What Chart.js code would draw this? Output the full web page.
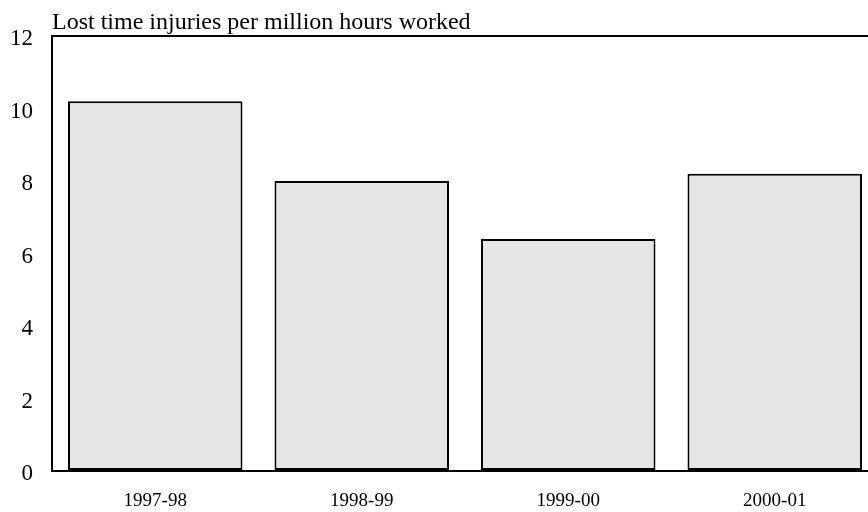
<!DOCTYPE html>
<html lang="en">
<head>
    <meta charset="UTF-8">
    <title>Lost time injuries per million hours worked</title>
    <script src="https://cdn.jsdelivr.net/npm/chart.js"></script>
    <style>
        html, body {
            margin: 0;
            padding: 0;
            background: #fff;
            overflow: hidden;
        }
        .chart-box {
            width: 880px;
            height: 512px;
        }
    </style>
</head>
<body>
    <div class="chart-box">
        <canvas id="injuryChart" width="880" height="512"></canvas>
    </div>

    <script>
        const categories = ['1997-98', '1998-99', '1999-00', '2000-01'];
        const injuryRates = [10.2, 8.0, 6.4, 8.2];
        const yMin = 0;
        const yMax = 12;
        const yStep = 2;
        const chartTitle = 'Lost time injuries per million hours worked';

        const serif = "'Liberation Serif', 'Times New Roman', serif";

        // title sits above the plot, flush with its left edge
        const topTitle = {
            id: 'topTitle',
            afterDraw(chart) {
                const ctx = chart.ctx;
                ctx.save();
                ctx.font = '24px ' + serif;
                ctx.fillStyle = '#000';
                ctx.textAlign = 'left';
                ctx.textBaseline = 'alphabetic';
                ctx.fillText(chartTitle, chart.chartArea.left, 29);
                ctx.restore();
            }
        };

        const ctx = document.getElementById('injuryChart').getContext('2d');
        new Chart(ctx, {
            type: 'bar',
            data: {
                labels: categories,
                datasets: [{
                    data: injuryRates,
                    backgroundColor: '#e5e5e5',
                    borderColor: '#000',
                    borderWidth: 2,
                    borderSkipped: false,
                    categoryPercentage: 1.0,
                    barPercentage: 0.845
                }]
            },
            options: {
                responsive: false,
                animation: false,
                layout: {
                    padding: { top: 36, right: 2, bottom: 0, left: 0 }
                },
                plugins: {
                    legend: { display: false },
                    title: { display: false },
                    tooltip: { enabled: false }
                },
                scales: {
                    x: {
                        grid: { display: false, drawTicks: false },
                        border: { display: true, color: '#000', width: 2 },
                        ticks: {
                            color: '#000',
                            font: { family: serif, size: 19 },
                            padding: 19,
                            maxRotation: 0
                        },
                        afterFit(scale) { scale.height = 41; }
                    },
                    y: {
                        min: yMin,
                        max: yMax,
                        grid: {
                            drawTicks: false,
                            lineWidth: 2,
                            color: c => (c.tick && c.tick.value === yMax) ? '#000' : 'rgba(0,0,0,0)'
                        },
                        border: { display: true, color: '#000', width: 2 },
                        ticks: {
                            stepSize: yStep,
                            color: '#000',
                            font: { family: serif, size: 23 },
                            padding: 19,
                            labelOffset: 3
                        },
                        afterFit(scale) { scale.width = 52; }
                    }
                }
            },
            plugins: [topTitle]
        });
    </script>
</body>
</html>
